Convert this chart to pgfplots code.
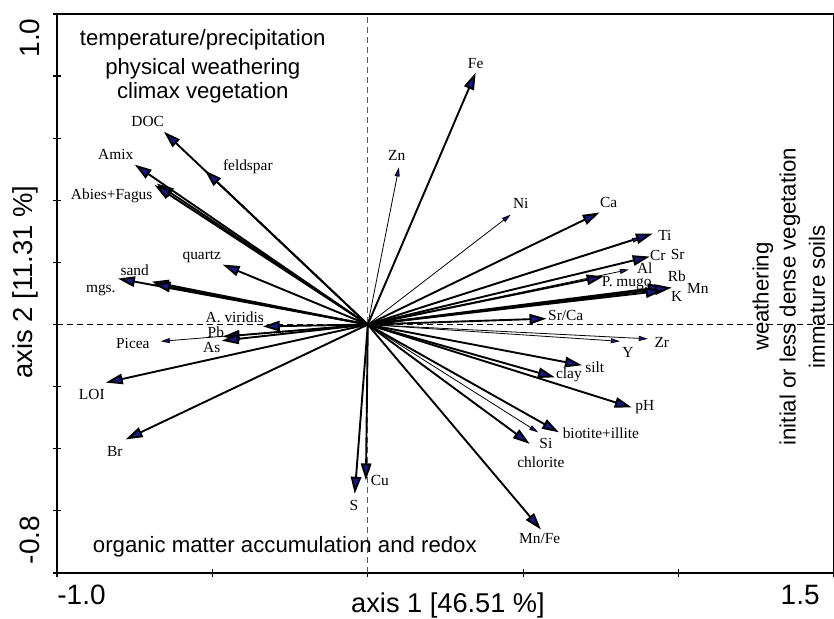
\documentclass[border=0pt]{standalone}
\usepackage{fontspec}
\setmainfont{Liberation Serif}
\setsansfont{Liberation Sans}
\usepackage{pgfplots}
\pgfplotsset{compat=1.18}
\usetikzlibrary{arrows.meta}
\definecolor{headblue}{RGB}{24,24,130}
\begin{document}
\begin{tikzpicture}
\path[use as bounding box] (0,0) rectangle (417pt,309.5pt);
\begin{axis}[
  at={(28.5pt,23pt)}, anchor=south west,
  scale only axis, width=388.5pt, height=279.5pt,
  xmin=-1, xmax=1.5, ymin=-0.8, ymax=1.0,
  xtick={-1,-0.5,0,0.5,1,1.5},
  ytick={-0.8,-0.6,-0.4,-0.2,0,0.2,0.4,0.6,0.8,1.0},
  xticklabels={,,,,,}, yticklabels={,,,,,,,,,},
  tick pos=left, tick align=center,
  major tick length=4pt,
  every tick/.style={black, line width=0.6pt},
  axis line style={line width=0.75pt},
  clip=false,
]
\addplot[gray!70!black, line width=0.5pt, dash pattern=on 3pt off 2pt] coordinates {(0,-0.8) (0,1.0)};
\addplot[black, line width=0.5pt, dash pattern=on 3pt off 2pt] coordinates {(-1,0) (1.5,0)};

% thick arrows
\addplot[black, line width=0.95pt, quiver={u=\thisrow{u}, v=\thisrow{v}},
  -{Triangle[length=8.5pt,width=5.2pt,fill=headblue]}] table {
x y u v
0 0 -0.656 0.621
0 0 -0.524 0.496
0 0 -0.750 0.515
0 0 -0.679 0.454
0 0 -0.686 0.449
0 0 -0.467 0.193
0 0 -0.804 0.148
0 0 -0.695 0.138
0 0 -0.690 0.131
0 0 -0.338 -0.006
0 0 -0.467 -0.039
0 0 -0.470 -0.052
0 0 -0.843 -0.187
0 0 -0.779 -0.370
0 0 -0.042 -0.545
0 0 -0.006 -0.502
0 0 0.347 0.811
0 0 0.746 0.361
0 0 0.917 0.293
0 0 0.907 0.219
0 0 0.759 0.155
0 0 0.956 0.122
0 0 0.978 0.119
0 0 0.949 0.109
0 0 0.575 0.019
0 0 0.689 -0.131
0 0 0.602 -0.170
0 0 0.849 -0.267
0 0 0.615 -0.347
0 0 0.521 -0.384
0 0 0.557 -0.660
};
% thin arrows
\addplot[black, line width=0.4pt, quiver={u=\thisrow{u}, v=\thisrow{v}},
  -{Triangle[length=4.5pt,width=2.5pt,fill=headblue]}] table {
x y u v
0 0 -0.666 -0.054
0 0 0.100 0.506
0 0 0.460 0.354
0 0 0.880 0.280
0 0 0.840 0.177
0 0 0.901 -0.046
0 0 0.811 -0.054
0 0 0.548 -0.347
};
% variable labels
\addplot[only marks, mark=none, nodes near coords, point meta=explicit symbolic,
  every node near coord/.style={anchor=center, inner sep=0pt, font=\fontsize{7.7}{9}\selectfont}]
  table[col sep=comma, meta=label] {
x,y,label
-0.708,0.654,DOC
-0.386,0.509,feldspar
-0.811,0.547,Amix
-0.824,0.415,Abies+Fagus
-0.534,0.219,quartz
-0.750,0.174,sand
-0.859,0.109,mgs.
-0.428,0.023,A. viridis
-0.489,-0.026,Pb
-0.756,-0.061,Picea
-0.502,-0.074,As
-0.888,-0.225,LOI
-0.814,-0.409,Br
-0.045,-0.583,S
0.039,-0.502,Cu
0.347,0.840,Fe
0.093,0.544,Zn
0.492,0.390,Ni
0.775,0.393,Ca
0.956,0.287,Ti
0.933,0.222,Cr
0.997,0.225,Sr
0.891,0.180,Al
0.833,0.135,P. mugo
0.994,0.155,Rb
1.062,0.116,Mn
0.994,0.090,K
0.637,0.029,Sr/Ca
0.946,-0.058,Zr
0.837,-0.090,Y
0.730,-0.138,silt
0.647,-0.161,clay
0.891,-0.267,pH
0.573,-0.383,Si
0.750,-0.351,biotite+illite
0.557,-0.444,chlorite
0.553,-0.689,Mn/Fe
};
% annotations
\node[anchor=base, font=\sffamily\fontsize{11.1}{13}\selectfont] at (axis cs:-0.531,0.898) {temperature/precipitation};
\node[anchor=base, font=\sffamily\fontsize{11.1}{13}\selectfont] at (axis cs:-0.531,0.805) {physical weathering};
\node[anchor=base, font=\sffamily\fontsize{11.1}{13}\selectfont] at (axis cs:-0.531,0.727) {climax vegetation};
\node[anchor=base, font=\sffamily\fontsize{11.1}{13}\selectfont] at (axis cs:-0.267,-0.734) {organic matter accumulation and redox};
\node[rotate=90, font=\sffamily\fontsize{11.1}{13}\selectfont] at (axis cs:1.271,0.090) {weathering};
\node[rotate=90, font=\sffamily\fontsize{11.1}{13}\selectfont] at (axis cs:1.358,0.090) {initial or less dense vegetation};
\node[rotate=90, font=\sffamily\fontsize{11.1}{13}\selectfont] at (axis cs:1.445,0.090) {immature soils};
\end{axis}
% axis titles and end tick labels
\node[anchor=base, font=\sffamily\fontsize{13.6}{16}\selectfont] at (224pt,3pt) {axis 1 [46.51 \%]};
\node[rotate=90, font=\sffamily\fontsize{13.7}{16}\selectfont] at (12.5pt,168.5pt) {axis 2 [11.31 \%]};
\node[anchor=base west, inner sep=0pt, font=\sffamily\fontsize{14}{16}\selectfont] at (28.5pt,7pt) {-1.0};
\node[anchor=base east, inner sep=0pt, font=\sffamily\fontsize{14}{16}\selectfont] at (410pt,7pt) {1.5};
\node[rotate=90, font=\sffamily\fontsize{14}{16}\selectfont] at (15pt,290.5pt) {1.0};
\node[rotate=90, font=\sffamily\fontsize{14}{16}\selectfont] at (15pt,39.5pt) {-0.8};
\end{tikzpicture}
\end{document}
